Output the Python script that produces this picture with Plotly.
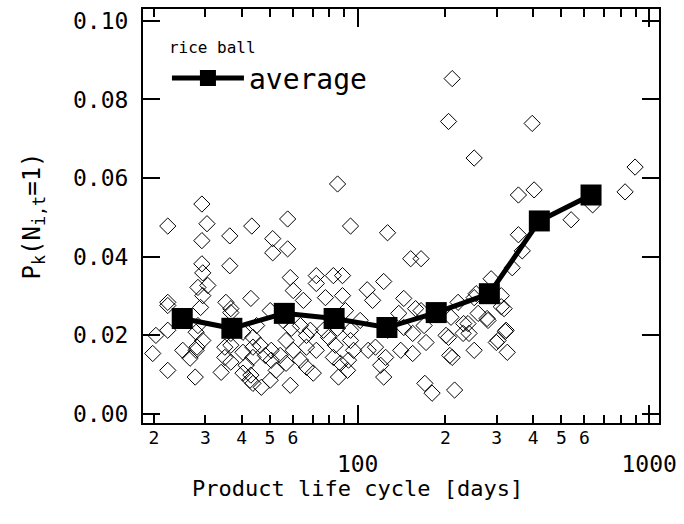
import plotly.graph_objects as go

# ---- data ----
avg_x = [25, 37, 56, 83, 126, 186, 283, 420, 632]
avg_y = [0.0243, 0.0218, 0.0256, 0.0243, 0.0220, 0.0258, 0.0306, 0.0491, 0.0557]

item_x = [
    29.2, 22.3, 30.4, 29.2, 36.4, 43.3, 57.5, 85.3, 94.5, 126.6, 51.1, 51.1, 57.5, 152, 165, 29.2, 36.4,
    211, 205, 397, 251, 356, 403, 540, 640, 895, 827, 356, 367, 339, 287, 311, 311, 278, 321, 299, 303,
    326, 251, 211, 207, 215, 180, 170, 259, 241, 231, 221, 251, 205, 209, 255, 280, 318, 323, 201, 230, 239,
    82.5, 88.7, 122.8, 107.8, 112.5, 88.7, 77.5, 143.9, 138.3, 158, 165, 169, 154.4, 171.6, 143.9, 126.7,
    115.1, 108.6, 124.7, 119.9, 122.8, 140.5, 154.4, 85.9, 92.3, 87.3, 93.0, 82.5, 96.8, 94.5, 83.8, 79.4,
    76.3, 85.2, 94.5, 102, 90.8,
    29.4, 28.3, 30.6, 29.4, 22.3, 22.3, 28.9, 35.3, 36.7, 36.7, 43.0, 58.7, 60.1, 65.1, 72.1, 72.1, 50.1,
    20.3, 22.3, 19.8, 22.3, 27.7, 25.1, 26.6, 27.9, 28.1, 27.9, 28.3, 29.4, 34.0, 35.0, 35.0, 36.7, 36.7,
    40.4, 43.7, 43.7, 43.7, 41.4, 43.0, 46.7, 42.7, 40.4, 50.5, 50.5, 52.5, 56.8, 60.1, 63.6, 56.8, 66.7,
    66.7, 70.4, 66.7, 72.1, 55.5, 59.2, 63.6, 68.8, 40.4, 36.7, 46.3, 48.2, 54.2, 45.0, 50.1, 58.7, 43.7,
]
item_y = [
    0.0534, 0.0478, 0.0484, 0.0441, 0.0453, 0.0478, 0.0496, 0.0585, 0.0478, 0.0461, 0.0446, 0.0410, 0.0420,
    0.0395, 0.0395, 0.0382, 0.0377,
    0.0853, 0.0744, 0.0739, 0.0651, 0.0557, 0.0570, 0.0494, 0.0532, 0.0628, 0.0565, 0.0456, 0.0415, 0.0372,
    0.0344, 0.0301, 0.0273, 0.0243, 0.0210, 0.0182, 0.0187, 0.0157, 0.0162, 0.0144, 0.0149, 0.0061, 0.0053,
    0.0078, 0.0256, 0.0205, 0.0230, 0.0284, 0.0296, 0.0195, 0.0246, 0.0306, 0.0238, 0.0268, 0.0213, 0.0200,
    0.0205, 0.0230,
    0.0352, 0.0352, 0.0337, 0.0316, 0.0289, 0.0301, 0.0296, 0.0294, 0.0256, 0.0268, 0.0263, 0.0225, 0.0205,
    0.0182, 0.0220, 0.0213, 0.0170, 0.0162, 0.0144, 0.0124, 0.0094, 0.0162, 0.0154, 0.0094, 0.0111, 0.0129,
    0.0137, 0.0144, 0.0162, 0.0187, 0.0175, 0.0195, 0.0213, 0.0218, 0.0213, 0.0238, 0.0263,
    0.0359, 0.0322, 0.0327, 0.0301, 0.0284, 0.0276, 0.0271, 0.0284, 0.0268, 0.0258, 0.0294, 0.0347, 0.0314,
    0.0289, 0.0352, 0.0332, 0.0263, 0.0200, 0.0213, 0.0154, 0.0111, 0.0094, 0.0162, 0.0142, 0.0162, 0.0170,
    0.0208, 0.0225, 0.0187, 0.0106, 0.0144, 0.0170, 0.0175, 0.0132, 0.0157, 0.0195, 0.0170, 0.0144, 0.0124,
    0.0099, 0.0068, 0.0086, 0.0104, 0.0137, 0.0162, 0.0111, 0.0187, 0.0162, 0.0137, 0.0129, 0.0200, 0.0119,
    0.0104, 0.0170, 0.0162, 0.0238, 0.0218, 0.0225, 0.0213, 0.0208, 0.0205, 0.0175, 0.0149, 0.0149, 0.0225,
    0.0086, 0.0073, 0.0078,
]

x_major = [100, 1000]
x_major_text = ["100", "1000"]
x_minor = [20, 30, 40, 50, 60, 70, 80, 90, 200, 300, 400, 500, 600, 700, 800, 900]
x_minor_lab = [20, 30, 40, 50, 60, 200, 300, 400, 500, 600]
x_minor_text = ["2", "3", "4", "5", "6", "2", "3", "4", "5", "6"]
y_ticks = [0.0, 0.02, 0.04, 0.06, 0.08, 0.10]
y_ticktext = ["0.00", "0.02", "0.04", "0.06", "0.08", "0.10"]

FONT = "DejaVu Sans Mono"
XR = [1.2633, 3.0339]
YR = [-0.00228, 0.1030]

fig = go.Figure()
fig.add_trace(go.Scatter(
    x=item_x, y=item_y, mode="markers", showlegend=False,
    marker=dict(symbol="diamond-open", size=12.5, color="black", line=dict(width=1, color="black")),
))
fig.add_trace(go.Scatter(
    x=avg_x, y=avg_y, mode="lines+markers", name="average", xaxis="x2",
    line=dict(color="black", width=5),
    marker=dict(symbol="square", size=21, color="black"),
))

fig.update_layout(
    width=684, height=524,
    margin=dict(l=143, r=24, t=7, b=101),
    paper_bgcolor="white", plot_bgcolor="white",
    font=dict(family=FONT, color="black"),
    xaxis=dict(
        type="log", range=XR, showgrid=False, zeroline=False,
        tickmode="array", tickvals=x_major, ticktext=x_major_text,
        ticks="inside", ticklen=18, tickwidth=2, tickcolor="black",
        showline=True, linewidth=2, linecolor="black", mirror="ticks",
        tickfont=dict(size=23, family=FONT), ticklabelstandoff=19,
        minor=dict(tickmode="array", tickvals=x_minor, ticks="inside", ticklen=8,
                   tickwidth=1.5, tickcolor="black", showgrid=False),
    ),
    xaxis2=dict(
        type="log", range=XR, overlaying="x", anchor="y", side="bottom",
        showgrid=False, zeroline=False, showline=False, ticks="",
        tickmode="array", tickvals=x_minor_lab, ticktext=x_minor_text,
        tickfont=dict(size=18, family=FONT), ticklabelstandoff=2,
    ),
    yaxis=dict(
        range=YR, showgrid=False, zeroline=False,
        tickmode="array", tickvals=y_ticks, ticktext=y_ticktext,
        ticks="inside", ticklen=17, tickwidth=2, tickcolor="black",
        showline=True, linewidth=2, linecolor="black", mirror="ticks",
        tickfont=dict(size=23, family=FONT), ticklabelstandoff=8,
        title=dict(text="P<sub>k</sub>(N<sub>i,t</sub>=1)", font=dict(size=24, family=FONT), standoff=26),
    ),
    legend=dict(
        x=0.0464, y=0.943, xanchor="left", yanchor="top",
        bgcolor="rgba(0,0,0,0)", borderwidth=0, itemwidth=72,
        font=dict(size=28, family=FONT),
        title=dict(text="rice ball", font=dict(size=16, family=FONT)),
    ),
    annotations=[dict(
        text="Product life cycle [days]", xref="paper", yref="paper",
        x=0.416, y=-0.158, xanchor="center", yanchor="middle", showarrow=False,
        font=dict(size=22, family=FONT),
    )],
)

fig.write_html("out.html", config={"displayModeBar": False},
               post_script="document.body.style.margin='0';document.body.style.padding='0';")
